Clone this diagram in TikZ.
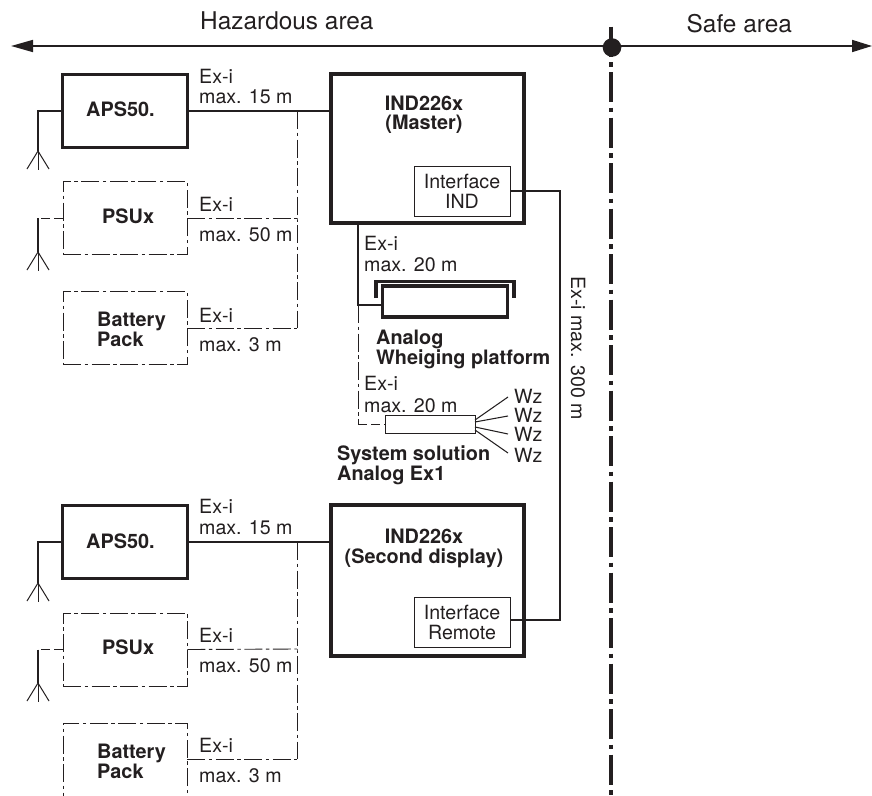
\documentclass[tikz,border=0pt]{standalone}
\usepackage{fontspec}
\setmainfont{TeX Gyre Heros}
\usetikzlibrary{arrows.meta}
\definecolor{ink}{HTML}{231F20}
\tikzset{
  x=1pt,y=-1pt,
  lbl/.style={anchor=base west,inner sep=0pt,text=ink,font=\fontsize{19.6}{22}\selectfont},
  biglbl/.style={lbl,font=\fontsize{24.4}{26}\selectfont},
  blbl/.style={lbl,font=\fontsize{19.85}{22}\selectfont\bfseries},
  mlbl/.style={anchor=base,inner sep=0pt,text=ink,font=\fontsize{19.85}{22}\selectfont\bfseries},
  thickbox/.style={draw=ink,line width=3.2pt,inner sep=0pt},
  optbox/.style={draw=ink,line width=0.8pt,inner sep=0pt,dash pattern=on 18pt off 3.5pt on 3.5pt off 3.5pt},
  thinbox/.style={draw=ink,line width=1pt,inner sep=0pt},
  wire/.style={draw=ink,line width=1.05pt},
  optwire/.style={draw=ink,line width=0.9pt,dash pattern=on 18pt off 3.5pt on 3.5pt off 3.5pt},
  dashwire/.style={draw=ink,line width=0.9pt,dash pattern=on 9pt off 4pt},
  ant/.style={draw=ink,line width=1pt},
  axisline/.style={draw=ink,line width=1.7pt},
  boundary/.style={draw=ink,line width=3.4pt,dash pattern=on 30pt off 5.5pt on 4.5pt off 5.5pt},
}
\newcommand{\antenna}[1]{%
  \draw[ant] (#1) ++(-11,18) -- (#1) -- ++(11,18);
  \draw[ant] (#1) -- ++(0,19);
}
\begin{document}
\begin{tikzpicture}
\useasboundingbox (0,0) rectangle (872,795);
\clip (0,0) rectangle (872,795);

% area axis
\node[biglbl] (haz) at (200,29) {Hazardous area};
\node[biglbl] (safe) at (686.5,32.3) {Safe area};
\coordinate (axl) at (11,46);
\coordinate (axr) at (872,46);
\coordinate (axm) at (612,46);
\draw[axisline,-{Triangle[length=22pt,width=12pt]}] (axm) -- (axl);
\draw[axisline,-{Triangle[length=20pt,width=12pt]}] (axm) -- (axr);
\coordinate (bndt) at (611,26.5);
\coordinate (bnd) at (611,796);
\draw[boundary] (bndt) -- (bnd);
\node[circle,fill=ink,inner sep=0pt,minimum size=18.6pt] (dot) at (612,47.5) {};

% upper group boxes
\node[thickbox,minimum width=125pt,minimum height=73pt] (aps1) at (125,111) {};
\node[optbox,minimum width=124pt,minimum height=73pt] (psu1) at (125,218) {};
\node[optbox,minimum width=124pt,minimum height=73pt] (bat1) at (125,328) {};
\node[thickbox,minimum width=193pt,minimum height=149pt] (ind1) at (427.5,148.5) {};
\node[thinbox,minimum width=96pt,minimum height=50pt] (if1) at (462,191) {};

\node[mlbl,anchor=base west] (taps1) at (86,116) {APS50.};
\node[mlbl,anchor=base west] (tpsu1) at (102,223) {PSUx};
\node[blbl] (tbat1a) at (97,326) {Battery};
\node[blbl] (tbat1b) at (97,346) {Pack};
\node[mlbl] (tind1a) at (424,110) {IND226x};
\node[mlbl] (tind1b) at (424,129) {(Master)};
\node[lbl,anchor=base] (tif1a) at (462,188) {Interface};
\node[lbl,anchor=base] (tif1b) at (462,208) {IND};

\coordinate (bus1t) at (297,111);
\coordinate (bus1m) at (297,218);
\coordinate (bus1b) at (297,328);
\draw[wire] (aps1.east) -- (bus1t) -- (bus1t -| ind1.west);
\draw[optwire] (bus1t) -- (bus1m) -- (bus1b);
\draw[optwire] (psu1.east) -- (bus1m);
\draw[optwire] (bat1.east) -- (bus1b);

\node[lbl] (l1) at (199,83) {Ex-i};
\node[lbl] (l2) at (199,103) {max. 15 m};
\node[lbl] (l3) at (199,211) {Ex-i};
\node[lbl] (l4) at (199,241) {max. 50 m};
\node[lbl] (l5) at (199,322) {Ex-i};
\node[lbl] (l6) at (199,351) {max. 3 m};

\coordinate (an1) at (38,151);
\coordinate (an2) at (38,252);
\draw[wire] (aps1.west) -- (an1 |- aps1.west) -- (an1);
\antenna{an1}
\draw[dashwire] (psu1.west) -- (an2 |- psu1.west);
\draw[wire] (an2 |- psu1.west) -- (an2);
\antenna{an2}

% platform
\coordinate (tap) at (358,305);
\coordinate (tapb) at (358,424);
\coordinate (indb) at (358,224);
\node[thickbox,minimum width=125pt,minimum height=31pt] (plat) at (445,301.5) {};
\draw[draw=ink,line width=3.2pt] (376,298) -- (376,281.5) -- (514,281.5) -- (514,298);
\draw[wire] (indb) -- (tap) -- (plat.west |- tap);
\draw[optwire] (tap) -- (tapb);
\node[lbl] (l7) at (364,250) {Ex-i};
\node[lbl] (l8) at (364,271) {max. 20 m};
\node[blbl] (tpa) at (376,344) {Analog};
\node[blbl] (tpb) at (376,364) {Wheiging platform};

% system solution
\node[lbl] (l9) at (364,390) {Ex-i};
\node[lbl] (l10) at (364,412) {max. 20 m};
\node[thinbox,minimum width=90pt,minimum height=18pt] (sys) at (430,424) {};
\draw[dashwire] (tapb) -- (sys.west);
\node[lbl] (w1) at (514,403) {Wz};
\node[lbl] (w2) at (514,422) {Wz};
\node[lbl] (w3) at (514,441) {Wz};
\node[lbl] (w4) at (514,462) {Wz};
\coordinate (e1) at (508,397);
\coordinate (e2) at (508,416);
\coordinate (e3) at (508,434);
\coordinate (e4) at (508,453);
\foreach \e/\yy in {e1/420,e2/422,e3/427,e4/430}{
  \draw[wire] (475,\yy) -- (\e);
}
\node[blbl] (ts1) at (337,460) {System solution};
\node[blbl] (ts2) at (337,480) {Analog Ex1};

% lower group boxes
\node[thickbox,minimum width=125pt,minimum height=73pt] (aps2) at (125,542) {};
\node[optbox,minimum width=124pt,minimum height=73pt] (psu2) at (125,649.5) {};
\node[optbox,minimum width=124pt,minimum height=110pt] (bat2) at (125,778) {};
\node[thickbox,minimum width=193pt,minimum height=151pt] (ind2) at (427.5,580.5) {};
\node[thinbox,minimum width=96pt,minimum height=50pt] (if2) at (462,622) {};

\node[mlbl,anchor=base west] (taps2) at (86,548) {APS50.};
\node[mlbl,anchor=base west] (tpsu2) at (102,654) {PSUx};
\node[blbl] (tbat2a) at (97,758) {Battery};
\node[blbl] (tbat2b) at (97,778) {Pack};
\node[mlbl] (tind2a) at (424,543) {IND226x};
\node[mlbl] (tind2b) at (424,563) {(Second display)};
\node[lbl,anchor=base] (tif2a) at (462,619) {Interface};
\node[lbl,anchor=base] (tif2b) at (462,639) {Remote};

\coordinate (bus2t) at (297,542);
\coordinate (bus2m) at (297,649);
\coordinate (bus2b) at (297,759);
\draw[wire] (aps2.east) -- (bus2t) -- (bus2t -| ind2.west);
\draw[optwire] (bus2t) -- (bus2m) -- (bus2b);
\draw[optwire] (psu2.east) -- (bus2m);
\draw[optwire] (bus2b -| bat2.east) -- (bus2b);

\node[lbl] (l11) at (199,513) {Ex-i};
\node[lbl] (l12) at (199,534) {max. 15 m};
\node[lbl] (l13) at (199,642) {Ex-i};
\node[lbl] (l14) at (199,672) {max. 50 m};
\node[lbl] (l15) at (199,752) {Ex-i};
\node[lbl] (l16) at (199,782) {max. 3 m};

\coordinate (an3) at (38,583);
\coordinate (an4) at (38,683);
\draw[wire] (aps2.west) -- (an3 |- aps2.west) -- (an3);
\antenna{an3}
\draw[dashwire] (psu2.west) -- (an4 |- psu2.west);
\draw[wire] (an4 |- psu2.west) -- (an4);
\antenna{an4}

% link between interfaces
\coordinate (railb) at (560,620);
\draw[wire] (if1.east) -- (if1.east -| railb) -- (railb) -- (railb -| if2.east);
\node[lbl,anchor=base,rotate=-90] (l300) at (571,348) {Ex-i max. 300 m};
\end{tikzpicture}
\end{document}
